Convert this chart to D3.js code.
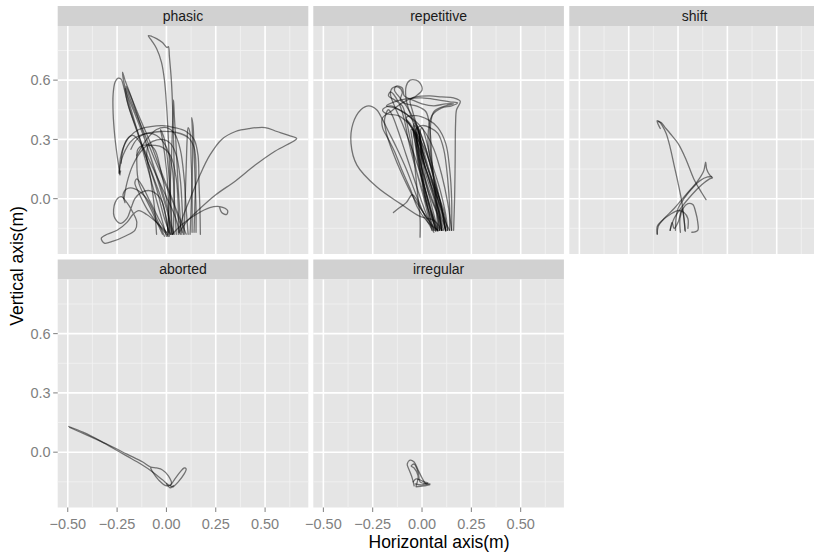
<!DOCTYPE html>
<html>
<head>
<meta charset="UTF-8">
<title>Trajectories</title>
<style>
  body { margin: 0; background: #fff; }
  text { font-family: "Liberation Sans", Arial, sans-serif; }
  .tick-label { font-size: 14.5px; fill: #7f7f7f; }
  .strip-label { font-size: 14px; fill: #1a1a1a; }
  .axis-title { font-size: 17.5px; fill: #000; }
  path.traj { fill: none; stroke: #000; stroke-opacity: 0.5; stroke-width: 1.3; stroke-linejoin: round; stroke-linecap: round; }
</style>
<script src="https://d3js.org/d3.v7.min.js"></script>
</head>
<body>
<div id="chart"></div>
<script>
// facet names, in the order they are laid out
const facets = ["phasic", "repetitive", "shift", "aborted", "irregular"];

const xTicks = [-0.5, -0.25, 0, 0.25, 0.5];
const xMinor = [-0.375, -0.125, 0.125, 0.375, 0.625];
const yTicks = [0, 0.3, 0.6];
const yMinor = [-0.15, 0.15, 0.45, 0.75];

// trajectories, [horizontal, vertical] in metres
const phasicPaths = [
  [[0.025,-0.18],[0.022,-0.05],[0.018,0.1],[0.01,0.3],[0.0,0.48],[-0.01,0.6],[-0.025,0.69],[-0.05,0.76],[-0.075,0.8],[-0.092,0.825],[-0.075,0.822],[-0.05,0.81],[-0.02,0.79],[0.003,0.765],[0.01,0.77],[0.015,0.72],[0.025,0.6],[0.032,0.45],[0.036,0.3],[0.04,0.1],[0.038,-0.05],[0.035,-0.18]],
  [[0.02,-0.18],[-0.01,-0.1],[-0.05,0.05],[-0.1,0.2],[-0.15,0.35],[-0.19,0.46],[-0.215,0.56],[-0.23,0.605],[-0.245,0.61],[-0.26,0.59],[-0.27,0.53],[-0.27,0.43],[-0.262,0.32],[-0.25,0.22],[-0.24,0.15],[-0.238,0.125],[-0.232,0.14]],
  [[0.03,-0.18],[0.0,-0.05],[-0.04,0.08],[-0.09,0.24],[-0.14,0.4],[-0.18,0.52],[-0.21,0.6],[-0.222,0.64],[-0.218,0.6],[-0.2,0.53],[-0.16,0.43],[-0.11,0.3],[-0.06,0.15],[-0.01,0.0],[0.02,-0.12],[0.04,-0.18]],
  [[0.0,-0.19],[-0.03,-0.08],[-0.08,0.1],[-0.13,0.28],[-0.17,0.42],[-0.2,0.52],[-0.21,0.56],[-0.2,0.5],[-0.17,0.4],[-0.12,0.26],[-0.07,0.12],[-0.02,-0.02],[0.01,-0.17]],
  [[0.06,-0.18],[0.08,-0.1],[0.12,0.0],[0.17,0.12],[0.22,0.22],[0.28,0.3],[0.35,0.34],[0.42,0.355],[0.5,0.36],[0.56,0.34],[0.62,0.32],[0.66,0.305],[0.65,0.295],[0.55,0.24],[0.45,0.17],[0.35,0.09],[0.25,0.02],[0.17,-0.05],[0.1,-0.12],[0.06,-0.18]],
  [[0.03,-0.18],[0.08,-0.13],[0.15,-0.08],[0.22,-0.045],[0.27,-0.04],[0.31,-0.06],[0.305,-0.08],[0.28,-0.07],[0.27,-0.045]],
  [[-0.235,0.12],[-0.238,0.16],[-0.225,0.24],[-0.19,0.31],[-0.14,0.35],[-0.08,0.365],[-0.02,0.37],[0.04,0.36],[0.1,0.34],[0.14,0.3],[0.16,0.22],[0.165,0.08],[0.17,-0.06],[0.172,-0.18]],
  [[-0.24,0.13],[-0.22,0.22],[-0.17,0.3],[-0.1,0.33],[-0.03,0.34],[0.05,0.335],[0.11,0.31],[0.14,0.26],[0.15,0.15],[0.145,0.0],[0.14,-0.17]],
  [[0.12,-0.18],[0.125,-0.05],[0.13,0.1],[0.133,0.25],[0.13,0.38],[0.128,0.41],[0.135,0.37],[0.14,0.25],[0.145,0.1],[0.15,-0.05],[0.15,-0.17]],
  [[0.005,-0.19],[0.015,0.0],[0.025,0.2],[0.032,0.4],[0.036,0.5],[0.04,0.42],[0.05,0.25],[0.06,0.05],[0.07,-0.1],[0.075,-0.18]],
  [[-0.02,-0.18],[-0.08,-0.05],[-0.14,0.08],[-0.15,0.18],[-0.145,0.25],[-0.12,0.27],[-0.06,0.27],[-0.02,0.26],[0.02,0.22],[0.05,0.1],[0.06,-0.05],[0.06,-0.17]],
  [[-0.215,0.0],[-0.2,0.08],[-0.17,0.17],[-0.12,0.25],[-0.07,0.29],[-0.02,0.3],[0.02,0.28],[0.05,0.22],[0.07,0.1],[0.08,-0.05],[0.085,-0.18]],
  [[0.0,-0.17],[-0.05,-0.12],[-0.1,-0.08],[-0.14,-0.06],[-0.17,-0.08],[-0.2,-0.12],[-0.25,-0.16],[-0.3,-0.18],[-0.33,-0.2],[-0.315,-0.225],[-0.27,-0.215],[-0.21,-0.19],[-0.16,-0.16],[-0.15,-0.12],[-0.17,-0.07],[-0.2,-0.02],[-0.23,0.01],[-0.26,-0.02],[-0.265,-0.09],[-0.235,-0.125],[-0.2,-0.1],[-0.18,-0.05],[-0.16,0.0],[-0.13,0.03],[-0.08,0.04],[-0.03,0.0],[0.0,-0.1],[0.01,-0.18]],
  [[0.01,-0.19],[-0.04,-0.1],[-0.09,0.0],[-0.12,0.06],[-0.15,0.1],[-0.16,0.08],[-0.14,0.03],[-0.1,-0.05],[-0.05,-0.12],[0.0,-0.18]],
  [[0.09,-0.18],[0.095,0.0],[0.1,0.15],[0.105,0.3],[0.11,0.36],[0.12,0.33],[0.125,0.2],[0.13,0.05],[0.13,-0.17]],
  [[0.1,-0.18],[0.06,-0.08],[0.0,0.06],[-0.06,0.2],[-0.12,0.35],[-0.17,0.47],[-0.2,0.55],[-0.205,0.57],[-0.19,0.54],[-0.14,0.42],[-0.08,0.28],[-0.02,0.12],[0.04,-0.03],[0.08,-0.17]],
  [[-0.05,-0.18],[-0.06,-0.05],[-0.08,0.1],[-0.1,0.22],[-0.09,0.27],[-0.06,0.25],[-0.03,0.15],[0.0,0.0],[0.02,-0.18]],
  [[0.05,-0.18],[0.04,0.0],[0.03,0.15],[0.0,0.26],[-0.05,0.32],[-0.1,0.33],[-0.15,0.3],[-0.18,0.25]],
  [[0.07,-0.18],[0.04,-0.08],[-0.02,0.05],[-0.08,0.18],[-0.13,0.28],[-0.17,0.32],[-0.2,0.3],[-0.22,0.25],[-0.23,0.18]],
  [[0.11,-0.18],[0.1,-0.05],[0.09,0.1],[0.07,0.25],[0.04,0.33],[0.0,0.36],[-0.05,0.35],[-0.1,0.3],[-0.15,0.22]],
  [[-0.01,-0.19],[-0.05,-0.1],[-0.1,0.0],[-0.16,0.05],[-0.2,0.05],[-0.22,0.02],[-0.21,-0.02]],
  [[0.015,-0.19],[0.01,0.0],[0.0,0.15],[-0.02,0.3],[-0.03,0.35],[-0.01,0.3],[0.01,0.15],[0.03,-0.18]]
];

const repetitivePaths = [
  [[0.1,-0.16],[0.06,-0.11],[-0.01,-0.09],[-0.11,-0.025],[-0.23,0.06],[-0.33,0.17],[-0.36,0.28],[-0.35,0.38],[-0.31,0.45],[-0.27,0.47],[-0.23,0.45],[-0.2,0.4],[-0.17,0.34],[-0.13,0.26],[-0.08,0.15],[-0.03,0.02],[0.02,-0.1],[0.06,-0.17]],
  [[0.08,-0.165],[0.05,-0.08],[0.02,0.0],[0.0,0.1],[-0.015,0.2],[-0.025,0.3],[-0.03,0.36],[-0.015,0.33],[-0.005,0.22],[0.005,0.1],[0.03,-0.02],[0.07,-0.16]],
  [[0.1,-0.16],[0.07,-0.06],[0.03,0.04],[0.0,0.15],[-0.02,0.27],[-0.04,0.37],[-0.02,0.35],[0.0,0.25],[0.02,0.12],[0.06,0.0],[0.09,-0.16]],
  [[0.13,-0.16],[0.1,-0.05],[0.05,0.06],[0.01,0.18],[-0.02,0.3],[-0.05,0.36],[-0.08,0.4],[-0.06,0.38],[-0.03,0.3],[0.01,0.17],[0.07,0.03],[0.12,-0.16]],
  [[0.15,-0.16],[0.13,-0.02],[0.1,0.12],[0.06,0.25],[0.02,0.33],[-0.02,0.38],[-0.1,0.44],[-0.16,0.47],[-0.2,0.45],[-0.18,0.43],[-0.12,0.42],[-0.05,0.36],[0.0,0.28],[0.05,0.15],[0.09,0.0],[0.12,-0.16]],
  [[0.16,-0.16],[0.165,0.0],[0.168,0.2],[0.17,0.38],[0.175,0.45],[0.194,0.493],[0.16,0.51],[0.1,0.515],[0.04,0.52],[-0.03,0.515],[-0.1,0.485],[-0.16,0.44],[-0.2,0.41],[-0.2,0.36],[-0.17,0.3],[-0.14,0.24],[-0.1,0.14],[-0.06,0.05],[-0.02,-0.05],[0.03,-0.12],[0.08,-0.16]],
  [[0.12,-0.165],[0.1,-0.05],[0.06,0.1],[0.02,0.25],[-0.02,0.36],[-0.08,0.43],[-0.14,0.46],[-0.18,0.47],[-0.14,0.49],[-0.08,0.505],[0.0,0.51],[0.08,0.5],[0.14,0.49],[0.18,0.485],[0.15,0.47],[0.1,0.46],[0.05,0.42],[0.03,0.3],[0.05,0.15],[0.08,0.0],[0.1,-0.16]],
  [[0.07,-0.16],[0.04,-0.05],[0.0,0.1],[-0.05,0.25],[-0.1,0.38],[-0.14,0.47],[-0.16,0.53],[-0.15,0.56],[-0.12,0.565],[-0.1,0.54],[-0.11,0.5],[-0.08,0.48],[-0.03,0.47],[0.02,0.44],[0.04,0.35],[0.05,0.2],[0.07,0.0],[0.09,-0.16]],
  [[0.1,-0.16],[0.08,-0.05],[0.05,0.1],[0.0,0.25],[-0.05,0.4],[-0.08,0.5],[-0.08,0.57],[-0.06,0.6],[-0.03,0.6],[-0.01,0.585],[0.0,0.55],[-0.03,0.52],[-0.06,0.5],[-0.05,0.45],[-0.02,0.35],[0.02,0.2],[0.06,0.05],[0.08,-0.16]],
  [[0.05,-0.16],[0.03,-0.05],[0.0,0.05],[-0.04,0.18],[-0.07,0.3],[-0.09,0.4],[-0.12,0.49],[-0.16,0.54],[-0.17,0.52],[-0.14,0.5],[-0.1,0.47],[-0.08,0.4],[-0.06,0.3],[-0.03,0.15],[0.01,0.0],[0.05,-0.16]],
  [[-0.01,-0.195],[-0.01,-0.1],[-0.02,0.0],[-0.03,0.1],[-0.04,0.2],[-0.05,0.3],[-0.055,0.35],[-0.04,0.34],[-0.025,0.25],[0.0,0.1],[0.03,-0.05],[0.06,-0.16]],
  [[-0.145,-0.07],[-0.12,-0.05],[-0.08,-0.02],[-0.05,0.02],[-0.03,0.0],[0.0,-0.06],[0.05,-0.13],[0.08,-0.16]],
  [[0.14,-0.16],[0.14,-0.05],[0.13,0.1],[0.11,0.25],[0.08,0.33],[0.04,0.36],[0.0,0.37],[-0.03,0.35],[-0.02,0.28],[0.02,0.15],[0.06,0.02],[0.1,-0.1],[0.12,-0.16]],
  [[0.09,-0.16],[0.06,-0.1],[0.03,0.0],[0.0,0.1],[-0.02,0.2],[-0.03,0.28],[-0.02,0.34],[-0.01,0.3],[0.0,0.2],[0.02,0.08],[0.05,-0.04],[0.08,-0.16]],
  [[0.11,-0.16],[0.08,-0.08],[0.04,0.03],[0.0,0.15],[-0.03,0.27],[-0.045,0.35],[-0.04,0.38],[-0.02,0.34],[0.0,0.22],[0.04,0.08],[0.08,-0.05],[0.11,-0.16]],
  [[0.15,-0.16],[0.15,0.0],[0.14,0.15],[0.12,0.28],[0.08,0.36],[0.03,0.4],[-0.03,0.42],[-0.08,0.41],[-0.06,0.37],[-0.02,0.3],[0.03,0.15],[0.08,0.0],[0.12,-0.12],[0.14,-0.16]],
  [[0.06,-0.16],[0.02,-0.09],[-0.04,0.0],[-0.1,0.12],[-0.15,0.24],[-0.18,0.33],[-0.19,0.4],[-0.17,0.45],[-0.15,0.42],[-0.12,0.34],[-0.08,0.22],[-0.04,0.1],[0.0,-0.02],[0.04,-0.12],[0.07,-0.165]],
  [[0.12,-0.16],[0.1,-0.05],[0.06,0.1],[0.02,0.25],[-0.03,0.38],[-0.08,0.47],[-0.12,0.52],[-0.14,0.55],[-0.13,0.57],[-0.1,0.56],[-0.09,0.52],[-0.05,0.5],[0.0,0.48],[0.06,0.47],[0.12,0.48],[0.16,0.48],[0.12,0.47],[0.06,0.44],[0.04,0.3],[0.06,0.1],[0.1,-0.16]],
  [[0.075,-0.16],[0.05,-0.1],[0.02,-0.02],[0.0,0.08],[-0.02,0.18],[-0.035,0.28],[-0.045,0.34],[-0.03,0.3],[-0.01,0.2],[0.01,0.08],[0.04,-0.04],[0.075,-0.16]],
  [[0.13,-0.16],[0.11,-0.06],[0.07,0.05],[0.03,0.15],[0.0,0.25],[-0.01,0.33],[0.0,0.36],[0.02,0.3],[0.05,0.18],[0.09,0.05],[0.12,-0.08],[0.13,-0.16]]
];

const shiftPaths = [
  [[-0.09,0.355],[-0.1,0.375],[-0.106,0.395],[-0.095,0.39],[-0.08,0.37],[-0.06,0.33],[-0.04,0.26],[-0.02,0.17],[0.0,0.08],[0.02,-0.02],[0.03,-0.1],[0.037,-0.165]],
  [[-0.1,0.39],[-0.085,0.385],[-0.065,0.36],[-0.04,0.33],[0.0,0.28],[0.04,0.2],[0.08,0.1],[0.12,0.03],[0.142,-0.005]],
  [[-0.105,-0.18],[-0.1,-0.14],[-0.07,-0.1],[-0.02,-0.05],[0.04,0.02],[0.1,0.09],[0.13,0.14],[0.14,0.185],[0.145,0.15],[0.16,0.12],[0.175,0.105],[0.16,0.1],[0.12,0.07],[0.07,0.02],[0.02,-0.04],[-0.02,-0.1],[-0.04,-0.16]],
  [[-0.013,-0.16],[-0.01,-0.1],[0.0,-0.05],[0.03,0.0],[0.07,0.05],[0.11,0.09],[0.15,0.11],[0.17,0.11]],
  [[0.012,-0.17],[0.01,-0.1],[0.025,-0.05],[0.05,-0.025],[0.075,-0.03],[0.09,-0.07],[0.1,-0.12],[0.1,-0.16],[0.07,-0.17]],
  [[-0.04,-0.16],[-0.03,-0.12],[-0.02,-0.15],[0.0,-0.12],[0.02,-0.05],[0.03,-0.1],[0.035,-0.16]],
  [[-0.106,-0.178],[-0.105,-0.14],[-0.08,-0.11],[-0.04,-0.08],[0.0,-0.06],[0.03,-0.07],[0.05,-0.1],[0.05,-0.15]]
];

const abortedPaths = [
  [[-0.495,0.13],[-0.42,0.1],[-0.34,0.06],[-0.27,0.02],[-0.2,-0.02],[-0.13,-0.06],[-0.07,-0.1],[-0.02,-0.14],[0.01,-0.165],[0.03,-0.175]],
  [[-0.49,0.125],[-0.4,0.085],[-0.3,0.04],[-0.2,-0.01],[-0.12,-0.05],[-0.08,-0.075],[-0.05,-0.08],[-0.02,-0.09],[0.01,-0.12],[0.025,-0.16],[0.0,-0.17],[-0.04,-0.14],[-0.07,-0.1],[-0.08,-0.08]],
  [[0.02,-0.17],[0.04,-0.14],[0.07,-0.1],[0.09,-0.08],[0.1,-0.085],[0.09,-0.11],[0.06,-0.15],[0.035,-0.175]],
  [[0.0,-0.16],[0.02,-0.18],[0.035,-0.17]]
];

const irregularPaths = [
  [[-0.04,-0.17],[-0.05,-0.13],[-0.065,-0.09],[-0.075,-0.06],[-0.06,-0.04],[-0.04,-0.05],[-0.02,-0.09],[0.0,-0.13],[0.02,-0.16],[0.04,-0.165],[0.01,-0.17],[-0.03,-0.175]],
  [[-0.03,-0.17],[-0.02,-0.12],[-0.04,-0.08],[-0.055,-0.07],[-0.04,-0.06],[-0.02,-0.1],[-0.01,-0.15],[0.02,-0.16],[0.04,-0.16]],
  [[-0.045,-0.15],[-0.03,-0.135],[-0.01,-0.14],[0.01,-0.15],[0.03,-0.155],[0.0,-0.165],[-0.035,-0.16]]
];

const pathsByFacet = [phasicPaths, repetitivePaths, shiftPaths, abortedPaths, irregularPaths];

const W = 814, H = 552;
const panelW = 250.6, panelH = 228, stripH = 20;
const colX = [57.7, 313.3, 569.3];
const rowY = [26, 279.5]; // top of each panel area (strip sits above)
const nCols = 3;

const x = d3.scaleLinear().domain([-0.551, 0.719]).range([0, panelW]);
const y = d3.scaleLinear().domain([-0.28, 0.874]).range([panelH, 0]);

const svg = d3.select("#chart").append("svg")
  .attr("width", W)
  .attr("height", H);

const line = d3.line()
  .x(d => x(d[0]))
  .y(d => y(d[1]))
  .curve(d3.curveCatmullRom.alpha(0.5));

facets.forEach((name, i) => {
  const col = i % nCols, row = Math.floor(i / nCols);
  const g = svg.append("g")
    .attr("transform", "translate(" + colX[col] + "," + rowY[row] + ")");

  // strip
  g.append("rect")
    .attr("x", 0).attr("y", -stripH)
    .attr("width", panelW).attr("height", stripH)
    .attr("fill", "#d1d1d1");
  g.append("text")
    .attr("class", "strip-label")
    .attr("x", panelW / 2).attr("y", -stripH / 2)
    .attr("dy", "0.35em")
    .attr("text-anchor", "middle")
    .text(name);

  // panel background + grid
  g.append("rect")
    .attr("width", panelW).attr("height", panelH)
    .attr("fill", "#e5e5e5");

  g.selectAll(".vminor").data(xMinor).enter().append("line")
    .attr("x1", d => x(d)).attr("x2", d => x(d))
    .attr("y1", 0).attr("y2", panelH)
    .attr("stroke", "#f2f2f2").attr("stroke-width", 0.8);
  g.selectAll(".hminor").data(yMinor).enter().append("line")
    .attr("y1", d => y(d)).attr("y2", d => y(d))
    .attr("x1", 0).attr("x2", panelW)
    .attr("stroke", "#f2f2f2").attr("stroke-width", 0.8);
  g.selectAll(".vmajor").data(xTicks).enter().append("line")
    .attr("x1", d => x(d)).attr("x2", d => x(d))
    .attr("y1", 0).attr("y2", panelH)
    .attr("stroke", "#fff").attr("stroke-width", 1.6);
  g.selectAll(".hmajor").data(yTicks).enter().append("line")
    .attr("y1", d => y(d)).attr("y2", d => y(d))
    .attr("x1", 0).attr("x2", panelW)
    .attr("stroke", "#fff").attr("stroke-width", 1.6);

  // trajectories
  const clipId = "clip" + i;
  g.append("clipPath").attr("id", clipId)
    .append("rect").attr("width", panelW).attr("height", panelH);
  g.append("g").attr("clip-path", "url(#" + clipId + ")")
    .selectAll("path").data(pathsByFacet[i]).enter().append("path")
    .attr("class", "traj")
    .attr("d", line);

  // left axis on first column
  if (col === 0) {
    const ya = g.append("g");
    ya.selectAll("line").data(yTicks).enter().append("line")
      .attr("x1", -4.5).attr("x2", 0)
      .attr("y1", d => y(d)).attr("y2", d => y(d))
      .attr("stroke", "#7f7f7f").attr("stroke-width", 1);
    ya.selectAll("text").data(yTicks).enter().append("text")
      .attr("class", "tick-label")
      .attr("x", -7).attr("y", d => y(d))
      .attr("dy", "0.36em")
      .attr("text-anchor", "end")
      .text(d => d3.format(".1f")(d));
  }

  // bottom axis on bottom row
  if (row === 1) {
    const xa = g.append("g").attr("transform", "translate(0," + panelH + ")");
    xa.selectAll("line").data(xTicks).enter().append("line")
      .attr("x1", d => x(d)).attr("x2", d => x(d))
      .attr("y1", 0).attr("y2", 4.5)
      .attr("stroke", "#7f7f7f").attr("stroke-width", 1);
    xa.selectAll("text").data(xTicks).enter().append("text")
      .attr("class", "tick-label")
      .attr("x", d => x(d)).attr("y", 21.5)
      .attr("text-anchor", "middle")
      .text(d => d3.format(".2f")(d));
  }
});

svg.append("text")
  .attr("class", "axis-title")
  .attr("text-anchor", "middle")
  .attr("x", 439).attr("y", 548)
  .text("Horizontal axis(m)");

svg.append("text")
  .attr("class", "axis-title")
  .attr("text-anchor", "middle")
  .attr("transform", "translate(23,266) rotate(-90)")
  .text("Vertical axis(m)");
</script>
</body>
</html>
